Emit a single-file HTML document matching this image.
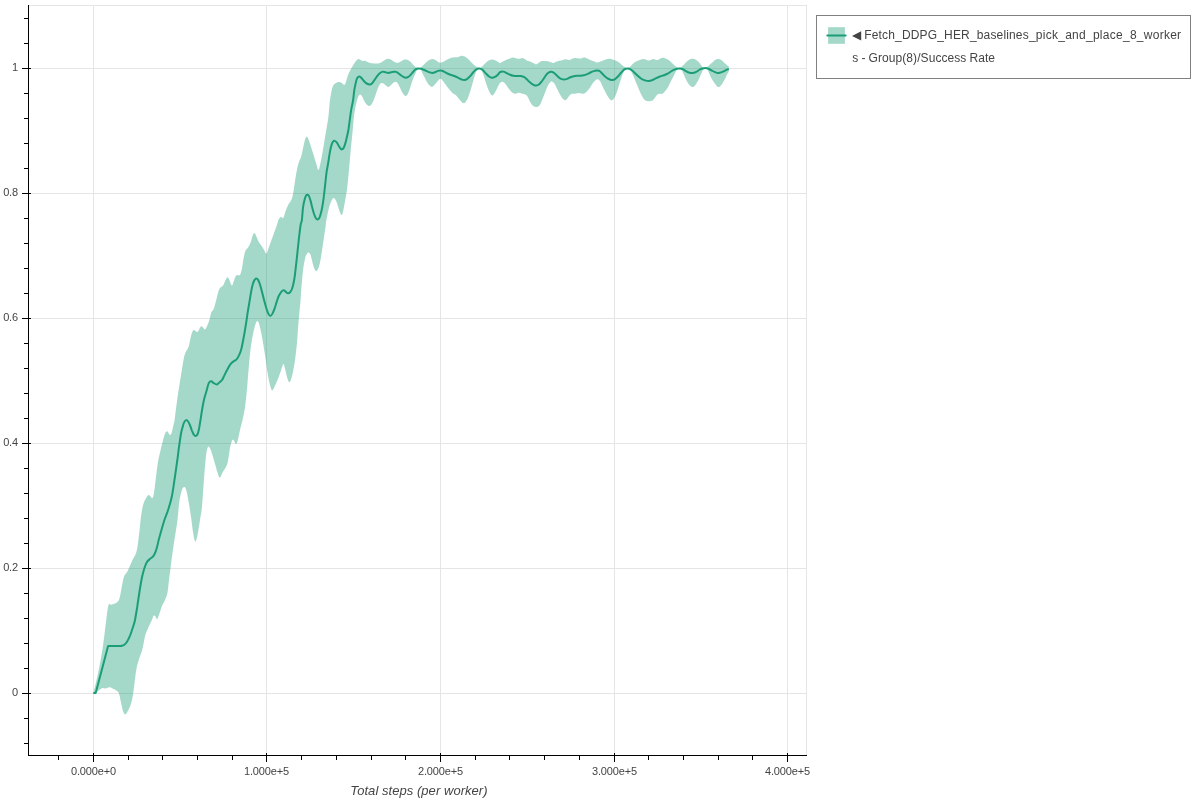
<!DOCTYPE html>
<html><head><meta charset="utf-8"><title>Success Rate</title>
<style>
html,body{margin:0;padding:0;background:#fff;}
body{width:1200px;height:800px;position:relative;overflow:hidden;font-family:"Liberation Sans",Helvetica,Arial,sans-serif;}
.legend{position:absolute;left:816px;top:15px;width:353px;height:42px;padding:10px;border:1px solid #808080;background:#fff;}
.glyph{position:absolute;left:8px;top:10px;width:24px;height:22px;}
.label{position:absolute;left:35.3px;top:8px;width:334px;font-size:12px;line-height:23px;color:#444;word-break:break-all;white-space:normal;word-spacing:-0.33px;letter-spacing:0.07px;}
.label span.a{letter-spacing:0.16px;}
.label span.b{letter-spacing:0.267px;}
.label b{font-weight:normal;word-spacing:-0.5px;}
</style></head><body>
<svg width="1200" height="800" viewBox="0 0 1200 800" style="position:absolute;left:0;top:0">
<rect x="0" y="0" width="1200" height="800" fill="#fff"/>
<g stroke="#e5e5e5" stroke-width="1" fill="none" shape-rendering="crispEdges">
<line x1="93.5" y1="5.5" x2="93.5" y2="755.5"/>
<line x1="266.5" y1="5.5" x2="266.5" y2="755.5"/>
<line x1="440.5" y1="5.5" x2="440.5" y2="755.5"/>
<line x1="614.5" y1="5.5" x2="614.5" y2="755.5"/>
<line x1="787.5" y1="5.5" x2="787.5" y2="755.5"/>
<line x1="28.5" y1="68.5" x2="806.5" y2="68.5"/>
<line x1="28.5" y1="193.5" x2="806.5" y2="193.5"/>
<line x1="28.5" y1="318.5" x2="806.5" y2="318.5"/>
<line x1="28.5" y1="443.5" x2="806.5" y2="443.5"/>
<line x1="28.5" y1="568.5" x2="806.5" y2="568.5"/>
<line x1="28.5" y1="693.5" x2="806.5" y2="693.5"/>
<rect x="28.5" y="5.5" width="778.0" height="750.0"/>
</g>
<clipPath id="c"><rect x="29" y="6" width="777" height="749"/></clipPath>
<g clip-path="url(#c)">
<path d="M93.50 692.90C94.38 689.08 97.15 677.98 98.75 670.00C100.35 662.02 101.85 653.33 103.10 645.00C104.35 636.67 105.35 626.62 106.25 620.00C107.15 613.38 107.67 607.79 108.50 605.25C109.33 602.71 109.75 605.31 111.25 604.75C112.75 604.19 116.04 603.32 117.50 601.90C118.96 600.48 118.96 600.32 120.00 596.25C121.04 592.18 122.50 581.67 123.75 577.50C125.00 573.33 126.04 574.17 127.50 571.25C128.96 568.33 131.04 563.12 132.50 560.00C133.96 556.88 135.32 555.42 136.25 552.50C137.18 549.58 137.47 546.88 138.10 542.50C138.72 538.12 139.58 530.00 140.00 526.25C140.42 522.50 140.18 523.12 140.60 520.00C141.02 516.88 141.77 510.83 142.50 507.50C143.23 504.17 143.96 502.08 145.00 500.00C146.04 497.92 147.50 495.32 148.75 495.00C150.00 494.68 151.56 498.93 152.50 498.10C153.44 497.27 153.78 493.85 154.40 490.00C155.03 486.15 155.63 479.79 156.25 475.00C156.87 470.21 157.38 465.42 158.10 461.25C158.82 457.08 159.77 453.54 160.60 450.00C161.43 446.46 162.37 442.71 163.10 440.00C163.83 437.29 164.31 435.21 165.00 433.75C165.69 432.29 166.42 431.04 167.25 431.25C168.08 431.46 169.22 434.89 170.00 435.00C170.78 435.11 171.28 433.77 171.90 431.90C172.53 430.02 173.30 425.73 173.75 423.75C174.20 421.77 173.97 424.38 174.60 420.00C175.22 415.62 176.39 405.21 177.50 397.50C178.61 389.79 180.21 380.21 181.25 373.75C182.29 367.29 183.03 362.29 183.75 358.75C184.47 355.21 184.77 354.58 185.60 352.50C186.43 350.42 187.81 349.17 188.75 346.25C189.69 343.33 190.42 337.71 191.25 335.00C192.08 332.29 192.71 330.52 193.75 330.00C194.79 329.48 196.25 332.52 197.50 331.90C198.75 331.27 200.00 326.67 201.25 326.25C202.50 325.83 203.96 329.61 205.00 329.40C206.04 329.19 206.77 326.57 207.50 325.00C208.23 323.43 208.78 322.08 209.40 320.00C210.03 317.92 210.53 314.38 211.25 312.50C211.97 310.62 212.92 310.83 213.75 308.75C214.58 306.67 215.53 302.71 216.25 300.00C216.97 297.29 217.47 294.48 218.10 292.50C218.72 290.52 219.17 289.25 220.00 288.10C220.83 286.95 222.17 286.95 223.10 285.60C224.03 284.25 224.87 281.39 225.60 280.00C226.33 278.61 226.87 277.25 227.50 277.25C228.13 277.25 228.67 278.61 229.40 280.00C230.13 281.39 231.18 285.39 231.90 285.60C232.62 285.81 233.13 282.81 233.75 281.25C234.37 279.69 234.93 277.29 235.60 276.25C236.27 275.21 237.02 275.21 237.75 275.00C238.48 274.79 239.31 276.04 240.00 275.00C240.69 273.96 241.28 271.67 241.90 268.75C242.53 265.83 243.13 260.52 243.75 257.50C244.37 254.47 244.88 252.27 245.60 250.60C246.32 248.93 247.27 248.85 248.10 247.50C248.93 246.15 249.87 244.38 250.60 242.50C251.33 240.62 251.87 237.82 252.50 236.25C253.13 234.68 253.78 233.10 254.40 233.10C255.03 233.10 255.53 234.78 256.25 236.25C256.98 237.72 257.81 240.23 258.75 241.90C259.69 243.57 260.96 244.80 261.90 246.25C262.84 247.70 263.67 249.35 264.40 250.60C265.12 251.85 265.63 253.95 266.25 253.75C266.87 253.55 267.38 251.28 268.10 249.40C268.83 247.53 269.66 245.11 270.60 242.50C271.54 239.89 272.70 236.67 273.75 233.75C274.80 230.83 276.12 227.29 276.90 225.00C277.67 222.71 277.78 221.35 278.40 220.00C279.02 218.65 279.82 217.22 280.60 216.90C281.38 216.58 282.27 219.04 283.10 218.10C283.93 217.16 284.77 213.43 285.60 211.25C286.43 209.07 287.16 206.88 288.10 205.00C289.04 203.12 290.42 201.88 291.25 200.00C292.08 198.12 292.48 196.88 293.10 193.75C293.73 190.62 294.37 185.21 295.00 181.25C295.63 177.29 296.27 173.12 296.90 170.00C297.52 166.88 298.02 164.79 298.75 162.50C299.48 160.21 300.42 159.17 301.25 156.25C302.08 153.33 303.02 148.03 303.75 145.00C304.48 141.97 305.04 139.45 305.60 138.10C306.16 136.75 306.58 136.58 307.10 136.90C307.62 137.22 308.06 138.23 308.75 140.00C309.44 141.77 310.42 144.90 311.25 147.50C312.08 150.10 312.92 152.89 313.75 155.60C314.58 158.31 315.46 161.35 316.25 163.75C317.04 166.15 317.77 170.21 318.50 170.00C319.23 169.79 319.93 165.42 320.60 162.50C321.27 159.58 321.87 156.04 322.50 152.50C323.13 148.96 323.77 145.00 324.40 141.25C325.02 137.50 325.58 134.04 326.25 130.00C326.92 125.96 327.84 121.40 328.40 117.00C328.96 112.60 329.12 107.78 329.60 103.60C330.08 99.42 330.73 94.83 331.30 91.90C331.87 88.97 332.37 87.40 333.00 86.00C333.63 84.60 334.33 84.12 335.10 83.50C335.87 82.88 336.83 82.50 337.60 82.25C338.37 82.00 339.00 81.86 339.70 82.00C340.40 82.14 341.03 82.60 341.80 83.10C342.57 83.60 343.60 85.22 344.30 85.00C345.00 84.78 345.38 83.45 346.00 81.80C346.62 80.15 347.36 76.98 348.05 75.10C348.74 73.22 349.45 71.89 350.15 70.50C350.85 69.11 351.56 67.93 352.25 66.75C352.94 65.57 353.61 64.44 354.30 63.40C354.99 62.36 355.70 61.23 356.40 60.50C357.10 59.77 357.80 59.10 358.50 59.00C359.20 58.90 359.90 59.58 360.60 59.90C361.30 60.22 361.86 60.73 362.70 60.90C363.54 61.07 364.67 60.65 365.65 60.90C366.63 61.15 367.56 62.02 368.60 62.40C369.64 62.78 370.78 63.00 371.90 63.20C373.02 63.40 374.18 63.57 375.30 63.60C376.42 63.63 377.63 63.60 378.60 63.40C379.57 63.20 380.26 62.85 381.10 62.40C381.94 61.95 382.80 61.23 383.65 60.70C384.50 60.17 385.43 59.52 386.20 59.20C386.97 58.88 387.48 58.73 388.25 58.80C389.02 58.87 389.96 59.18 390.80 59.60C391.64 60.02 392.47 60.80 393.30 61.30C394.13 61.80 395.10 62.35 395.80 62.60C396.50 62.85 396.80 62.92 397.50 62.80C398.20 62.68 399.17 62.28 400.00 61.90C400.83 61.52 401.73 60.88 402.50 60.50C403.27 60.12 403.98 59.77 404.60 59.60C405.23 59.43 405.55 59.35 406.25 59.50C406.95 59.65 407.96 59.98 408.80 60.50C409.64 61.02 410.68 61.98 411.30 62.60C411.92 63.22 411.88 63.57 412.50 64.20C413.12 64.83 414.25 65.83 415.00 66.40C415.75 66.97 416.29 67.32 417.00 67.60C417.71 67.88 418.54 68.17 419.25 68.10C419.96 68.03 420.50 67.76 421.25 67.20C422.00 66.64 422.92 65.58 423.75 64.75C424.58 63.92 425.42 63.00 426.25 62.25C427.08 61.50 427.92 60.75 428.75 60.25C429.58 59.75 430.62 59.44 431.25 59.25C431.88 59.06 431.88 59.02 432.50 59.10C433.12 59.18 434.07 59.28 435.00 59.75C435.93 60.22 437.17 61.40 438.10 61.90C439.03 62.40 439.66 62.82 440.60 62.75C441.54 62.68 442.60 62.02 443.75 61.50C444.90 60.98 446.25 60.23 447.50 59.60C448.75 58.98 450.10 58.14 451.25 57.75C452.40 57.36 453.36 57.33 454.40 57.25C455.44 57.17 456.57 57.42 457.50 57.25C458.43 57.08 459.17 56.48 460.00 56.25C460.83 56.02 461.57 55.79 462.50 55.90C463.43 56.01 464.56 56.28 465.60 56.90C466.64 57.52 467.60 58.50 468.75 59.60C469.90 60.70 471.25 62.35 472.50 63.50C473.75 64.65 475.10 65.75 476.25 66.50C477.40 67.25 478.36 68.04 479.40 68.00C480.44 67.96 481.47 67.07 482.50 66.25C483.53 65.43 484.56 64.04 485.60 63.10C486.64 62.16 487.70 61.18 488.75 60.60C489.80 60.02 490.86 59.66 491.90 59.60C492.94 59.54 493.97 59.87 495.00 60.25C496.03 60.63 497.27 61.44 498.10 61.90C498.93 62.36 499.12 63.10 500.00 63.01C500.88 62.91 502.23 61.89 503.35 61.33C504.47 60.77 505.58 60.15 506.70 59.66C507.82 59.17 508.93 58.75 510.05 58.40C511.17 58.05 512.28 57.53 513.40 57.56C514.52 57.59 515.77 58.36 516.75 58.57C517.73 58.78 518.35 58.92 519.26 58.82C520.17 58.72 521.35 57.98 522.19 57.98C523.03 57.98 523.52 58.40 524.29 58.82C525.06 59.24 525.96 60.07 526.80 60.49C527.64 60.91 528.47 61.05 529.31 61.33C530.15 61.61 530.99 61.79 531.83 62.17C532.67 62.55 533.64 63.21 534.34 63.59C535.04 63.97 535.31 64.53 536.01 64.43C536.71 64.33 537.69 63.53 538.53 63.01C539.37 62.49 540.06 61.65 541.04 61.33C542.02 61.01 543.27 61.08 544.39 61.08C545.51 61.08 546.62 61.15 547.74 61.33C548.86 61.51 550.11 61.89 551.09 62.17C552.07 62.45 552.76 63.08 553.60 63.01C554.44 62.94 555.13 62.13 556.11 61.75C557.09 61.37 558.34 61.06 559.46 60.75C560.58 60.44 561.69 60.16 562.81 59.91C563.93 59.66 565.04 59.21 566.16 59.24C567.28 59.27 568.53 60.15 569.51 60.08C570.49 60.01 571.05 59.17 572.03 58.82C573.01 58.47 574.26 58.02 575.38 57.98C576.50 57.94 577.75 58.50 578.73 58.57C579.71 58.64 580.33 58.57 581.24 58.40C582.15 58.23 583.19 57.56 584.17 57.56C585.15 57.56 586.05 58.01 587.10 58.40C588.15 58.79 589.33 59.42 590.45 59.91C591.57 60.40 592.68 60.88 593.80 61.33C594.92 61.78 596.12 62.52 597.15 62.59C598.18 62.66 598.90 62.14 600.00 61.75C601.10 61.36 602.50 60.71 603.75 60.25C605.00 59.79 606.46 59.25 607.50 59.00C608.54 58.75 609.17 58.65 610.00 58.75C610.83 58.85 611.57 59.29 612.50 59.60C613.43 59.91 614.56 60.16 615.60 60.60C616.64 61.04 617.70 61.52 618.75 62.25C619.80 62.98 620.86 64.19 621.90 65.00C622.94 65.81 624.07 66.58 625.00 67.10C625.93 67.62 626.57 68.24 627.50 68.10C628.43 67.96 629.56 67.08 630.60 66.25C631.64 65.42 632.70 63.98 633.75 63.10C634.80 62.23 635.86 61.52 636.90 61.00C637.94 60.48 638.97 60.32 640.00 60.00C641.03 59.68 642.06 59.14 643.10 59.10C644.14 59.06 645.31 59.50 646.25 59.75C647.19 60.00 647.92 60.60 648.75 60.60C649.58 60.60 650.42 60.02 651.25 59.75C652.08 59.48 652.92 58.96 653.75 59.00C654.58 59.04 655.42 59.93 656.25 60.00C657.08 60.07 657.92 59.72 658.75 59.40C659.58 59.08 660.52 58.38 661.25 58.10C661.98 57.83 662.27 57.64 663.10 57.75C663.93 57.86 665.20 58.27 666.25 58.75C667.30 59.23 668.36 59.81 669.40 60.60C670.44 61.39 671.47 62.56 672.50 63.50C673.53 64.44 674.56 65.50 675.60 66.25C676.64 67.00 677.60 68.04 678.75 68.00C679.90 67.96 681.36 66.88 682.50 66.00C683.64 65.12 684.56 63.75 685.60 62.75C686.64 61.75 687.60 60.67 688.75 60.00C689.90 59.33 691.25 58.75 692.50 58.75C693.75 58.75 695.10 59.33 696.25 60.00C697.40 60.67 698.38 61.60 699.40 62.75C700.42 63.90 701.40 66.08 702.40 66.90C703.40 67.73 704.50 67.75 705.40 67.70C706.30 67.65 707.00 67.17 707.80 66.60C708.60 66.03 709.40 65.03 710.20 64.30C711.00 63.57 711.80 62.90 712.60 62.20C713.40 61.50 714.30 60.60 715.00 60.10C715.70 59.60 716.25 59.40 716.80 59.20C717.35 59.00 717.70 58.85 718.30 58.90C718.90 58.95 719.75 59.17 720.40 59.50C721.05 59.83 721.60 60.35 722.20 60.85C722.80 61.35 723.20 61.77 724.00 62.50C724.80 63.23 726.20 64.53 727.00 65.20C727.80 65.88 728.50 66.33 728.80 66.55L728.80 71.80C728.50 72.25 727.50 73.60 727.00 74.50C726.50 75.40 726.15 76.45 725.80 77.20C725.45 77.95 725.28 78.28 724.90 79.00C724.52 79.72 724.11 80.50 723.50 81.50C722.89 82.50 722.15 84.07 721.25 85.00C720.35 85.93 719.14 87.31 718.10 87.10C717.06 86.89 716.02 85.05 715.00 83.75C713.98 82.45 712.70 80.44 712.00 79.30C711.30 78.16 711.20 77.75 710.80 76.90C710.40 76.05 710.00 75.15 709.60 74.20C709.20 73.25 708.80 72.05 708.40 71.20C708.00 70.35 707.63 69.58 707.20 69.10C706.77 68.62 706.25 68.35 705.80 68.30C705.35 68.25 704.97 68.53 704.50 68.80C704.03 69.07 703.54 69.08 703.00 69.90C702.46 70.73 702.07 71.97 701.25 73.75C700.43 75.53 699.14 78.62 698.10 80.60C697.06 82.57 695.93 84.52 695.00 85.60C694.07 86.68 693.33 87.10 692.50 87.10C691.67 87.10 690.93 86.57 690.00 85.60C689.07 84.62 687.94 83.12 686.90 81.25C685.86 79.38 684.69 76.38 683.75 74.40C682.81 72.43 681.98 70.32 681.25 69.40C680.52 68.48 680.12 68.80 679.40 68.90C678.67 69.00 677.73 69.08 676.90 70.00C676.07 70.92 675.34 72.63 674.40 74.40C673.46 76.17 672.30 78.52 671.25 80.60C670.20 82.68 669.14 85.12 668.10 86.90C667.06 88.68 665.93 90.11 665.00 91.25C664.07 92.39 663.33 93.33 662.50 93.75C661.67 94.17 660.83 93.64 660.00 93.75C659.17 93.86 658.33 93.78 657.50 94.40C656.67 95.03 655.83 96.47 655.00 97.50C654.17 98.53 653.54 99.97 652.50 100.60C651.46 101.22 649.90 101.25 648.75 101.25C647.60 101.25 646.64 101.32 645.60 100.60C644.56 99.88 643.53 98.57 642.50 96.90C641.47 95.23 640.44 92.90 639.40 90.60C638.36 88.30 637.30 85.60 636.25 83.10C635.20 80.60 634.04 77.68 633.10 75.60C632.16 73.52 631.43 71.72 630.60 70.60C629.77 69.48 628.83 69.21 628.10 68.90C627.38 68.59 626.98 68.25 626.25 68.75C625.52 69.25 624.58 70.34 623.75 71.90C622.92 73.46 622.08 75.71 621.25 78.10C620.42 80.49 619.58 83.64 618.75 86.25C617.92 88.86 617.08 91.67 616.25 93.75C615.42 95.83 614.58 97.67 613.75 98.75C612.92 99.83 611.98 100.25 611.25 100.25C610.52 100.25 610.12 99.62 609.40 98.75C608.67 97.88 607.73 96.46 606.90 95.00C606.07 93.54 605.23 91.67 604.40 90.00C603.57 88.33 602.63 86.50 601.90 85.00C601.17 83.50 600.72 81.98 600.00 81.01C599.28 80.04 598.32 79.31 597.57 79.17C596.82 79.03 596.25 79.52 595.48 80.18C594.71 80.84 593.80 81.99 592.96 83.11C592.12 84.23 591.29 85.69 590.45 86.88C589.61 88.07 588.78 89.25 587.94 90.23C587.10 91.21 586.20 92.16 585.43 92.74C584.66 93.32 584.03 93.63 583.33 93.74C582.63 93.85 582.01 93.55 581.24 93.41C580.47 93.27 579.57 92.91 578.73 92.91C577.89 92.91 577.05 93.27 576.21 93.41C575.37 93.55 574.54 93.64 573.70 93.74C572.86 93.84 571.96 93.60 571.19 93.99C570.42 94.38 569.80 95.25 569.10 96.09C568.40 96.93 567.63 98.32 567.00 99.02C566.37 99.72 565.82 100.14 565.33 100.28C564.84 100.42 564.63 100.28 564.07 99.86C563.51 99.44 562.75 98.81 561.98 97.76C561.21 96.71 560.30 95.11 559.46 93.58C558.62 92.05 557.79 90.22 556.95 88.55C556.11 86.88 555.25 84.72 554.44 83.53C553.63 82.34 552.79 81.64 552.09 81.43C551.39 81.22 550.98 81.50 550.25 82.27C549.52 83.04 548.58 84.44 547.74 86.04C546.90 87.65 546.07 89.81 545.23 91.90C544.39 93.99 543.48 96.64 542.71 98.60C541.94 100.55 541.32 102.37 540.62 103.63C539.92 104.89 539.30 105.58 538.53 106.14C537.76 106.70 536.85 106.98 536.01 106.98C535.17 106.98 534.27 106.63 533.50 106.14C532.73 105.65 532.11 105.03 531.41 104.05C530.71 103.07 530.01 101.61 529.31 100.28C528.61 98.95 527.92 97.07 527.22 96.09C526.52 95.11 525.90 94.80 525.13 94.41C524.36 94.02 523.45 93.99 522.61 93.74C521.77 93.49 520.94 93.05 520.10 92.91C519.26 92.77 518.43 92.77 517.59 92.91C516.75 93.05 515.92 93.77 515.08 93.74C514.24 93.71 513.40 93.32 512.56 92.74C511.72 92.16 510.89 91.21 510.05 90.23C509.21 89.25 508.38 88.00 507.54 86.88C506.70 85.76 505.87 84.37 505.03 83.53C504.19 82.69 503.35 81.92 502.51 81.85C501.67 81.78 500.83 82.17 500.00 83.11C499.17 84.05 498.33 85.94 497.50 87.50C496.67 89.06 495.88 91.15 495.00 92.50C494.12 93.85 493.08 95.50 492.25 95.60C491.42 95.70 490.79 94.45 490.00 93.10C489.21 91.75 488.33 89.68 487.50 87.50C486.67 85.32 485.83 82.50 485.00 80.00C484.17 77.50 483.33 74.35 482.50 72.50C481.67 70.65 480.73 69.48 480.00 68.90C479.27 68.32 478.83 68.30 478.10 69.00C477.37 69.70 476.43 71.06 475.60 73.10C474.77 75.14 473.93 78.43 473.10 81.25C472.27 84.07 471.43 87.29 470.60 90.00C469.77 92.71 468.93 95.52 468.10 97.50C467.27 99.48 466.33 100.97 465.60 101.90C464.88 102.83 464.37 103.04 463.75 103.10C463.13 103.16 462.62 102.87 461.90 102.25C461.17 101.63 460.34 100.51 459.40 99.40C458.46 98.29 457.40 96.65 456.25 95.60C455.10 94.55 453.75 94.24 452.50 93.10C451.25 91.96 450.00 90.31 448.75 88.75C447.50 87.19 445.94 85.00 445.00 83.75C444.06 82.50 443.83 82.08 443.10 81.25C442.37 80.42 441.53 78.75 440.60 78.75C439.67 78.75 438.53 80.21 437.50 81.25C436.47 82.29 435.33 84.06 434.40 85.00C433.47 85.94 432.73 86.86 431.90 86.90C431.07 86.94 430.23 86.08 429.40 85.25C428.57 84.42 427.59 82.99 426.90 81.90C426.21 80.81 425.73 79.63 425.25 78.70C424.77 77.77 424.46 77.18 424.00 76.30C423.54 75.42 422.95 74.32 422.50 73.40C422.05 72.48 421.67 71.50 421.30 70.80C420.93 70.10 420.64 69.55 420.30 69.20C419.96 68.85 419.63 68.68 419.25 68.70C418.87 68.72 418.42 68.95 418.00 69.30C417.58 69.65 417.17 70.15 416.75 70.80C416.33 71.45 415.99 72.17 415.50 73.20C415.01 74.23 414.43 75.42 413.80 77.00C413.17 78.58 412.40 80.63 411.70 82.70C411.00 84.77 410.30 87.45 409.60 89.40C408.90 91.35 408.12 93.32 407.50 94.40C406.88 95.48 406.33 95.73 405.85 95.90C405.37 96.07 405.16 95.93 404.60 95.40C404.04 94.87 403.27 93.98 402.50 92.70C401.73 91.42 400.77 89.23 400.00 87.70C399.23 86.17 398.60 84.48 397.90 83.50C397.20 82.52 396.57 81.92 395.80 81.80C395.03 81.68 394.13 82.23 393.30 82.80C392.47 83.37 391.60 84.50 390.80 85.20C390.00 85.90 389.20 86.87 388.50 87.00C387.80 87.13 387.33 86.52 386.60 86.00C385.87 85.48 384.87 84.38 384.10 83.90C383.33 83.42 382.70 83.03 382.00 83.10C381.30 83.17 380.60 83.40 379.90 84.30C379.20 85.20 378.50 86.82 377.80 88.50C377.10 90.18 376.40 92.44 375.70 94.40C375.00 96.36 374.30 98.58 373.60 100.25C372.90 101.92 372.20 103.46 371.50 104.40C370.80 105.34 370.03 105.75 369.40 105.90C368.77 106.05 368.32 105.75 367.70 105.30C367.07 104.85 366.34 104.18 365.65 103.20C364.96 102.22 364.18 100.58 363.55 99.40C362.93 98.22 362.46 96.93 361.90 96.10C361.34 95.27 360.77 94.40 360.20 94.40C359.63 94.40 359.06 94.98 358.50 96.10C357.94 97.22 357.40 99.02 356.85 101.10C356.30 103.18 355.69 105.95 355.20 108.60C354.71 111.25 354.35 113.02 353.90 117.00C353.45 120.98 353.05 126.79 352.50 132.50C351.95 138.21 351.23 144.58 350.60 151.25C349.98 157.92 349.37 166.04 348.75 172.50C348.13 178.96 347.52 185.21 346.90 190.00C346.27 194.79 345.63 197.71 345.00 201.25C344.37 204.79 343.73 208.96 343.10 211.25C342.48 213.54 341.98 215.42 341.25 215.00C340.52 214.58 339.58 211.04 338.75 208.75C337.92 206.46 337.08 203.03 336.25 201.25C335.42 199.47 334.58 198.10 333.75 198.10C332.92 198.10 332.08 199.47 331.25 201.25C330.42 203.03 329.56 205.62 328.75 208.75C327.94 211.88 326.92 217.08 326.40 220.00C325.88 222.92 326.04 223.12 325.60 226.25C325.16 229.38 324.37 234.58 323.75 238.75C323.13 242.92 322.52 247.29 321.90 251.25C321.27 255.21 320.63 259.58 320.00 262.50C319.37 265.42 318.73 267.29 318.10 268.75C317.48 270.21 316.87 271.25 316.25 271.25C315.63 271.25 315.02 270.21 314.40 268.75C313.77 267.29 313.13 264.79 312.50 262.50C311.87 260.21 311.23 256.67 310.60 255.00C309.98 253.33 309.37 252.71 308.75 252.50C308.13 252.29 307.52 252.71 306.90 253.75C306.27 254.79 305.63 256.04 305.00 258.75C304.37 261.46 303.73 264.79 303.10 270.00C302.48 275.21 301.67 285.00 301.25 290.00C300.83 295.00 300.91 296.25 300.60 300.00C300.29 303.75 299.82 307.92 299.40 312.50C298.98 317.08 298.52 322.29 298.10 327.50C297.68 332.71 297.42 338.33 296.90 343.75C296.38 349.17 295.63 355.42 295.00 360.00C294.37 364.58 293.73 368.12 293.10 371.25C292.48 374.38 291.87 376.92 291.25 378.75C290.63 380.58 290.02 382.25 289.40 382.25C288.77 382.25 288.23 381.00 287.50 378.75C286.77 376.50 285.67 371.21 285.00 368.75C284.33 366.29 284.02 364.16 283.50 364.00C282.98 363.84 282.69 365.63 281.90 367.80C281.11 369.97 279.90 374.03 278.75 377.00C277.60 379.97 276.08 383.37 275.00 385.60C273.92 387.83 273.08 390.50 272.25 390.40C271.42 390.30 270.79 387.98 270.00 385.00C269.21 382.02 268.33 377.50 267.50 372.50C266.67 367.50 265.93 361.04 265.00 355.00C264.07 348.96 262.83 341.25 261.90 336.25C260.97 331.25 260.13 327.54 259.40 325.00C258.67 322.46 258.13 321.21 257.50 321.00C256.87 320.79 256.33 321.62 255.60 323.75C254.87 325.88 253.93 329.58 253.10 333.75C252.27 337.92 251.32 343.12 250.60 348.75C249.88 354.38 249.37 360.62 248.75 367.50C248.13 374.38 247.53 383.33 246.90 390.00C246.28 396.67 245.73 402.50 245.00 407.50C244.27 412.50 243.33 416.25 242.50 420.00C241.67 423.75 240.83 426.46 240.00 430.00C239.17 433.54 238.23 438.96 237.50 441.25C236.77 443.54 236.33 444.06 235.60 443.75C234.87 443.44 233.93 439.19 233.10 439.40C232.27 439.61 231.32 442.19 230.60 445.00C229.88 447.81 229.37 452.92 228.75 456.25C228.13 459.58 227.94 462.29 226.90 465.00C225.86 467.71 223.69 470.38 222.50 472.50C221.31 474.62 220.58 477.75 219.75 477.75C218.92 477.75 218.29 474.83 217.50 472.50C216.71 470.17 216.04 467.29 215.00 463.75C213.96 460.21 212.29 454.12 211.25 451.25C210.21 448.38 209.47 446.71 208.75 446.50C208.03 446.29 207.43 447.75 206.90 450.00C206.38 452.25 206.12 454.58 205.60 460.00C205.07 465.42 204.37 474.58 203.75 482.50C203.13 490.42 202.53 501.25 201.90 507.50C201.28 513.75 200.73 515.42 200.00 520.00C199.27 524.58 198.29 531.42 197.50 535.00C196.71 538.58 195.98 541.92 195.25 541.50C194.52 541.08 193.77 536.29 193.10 532.50C192.43 528.71 191.97 523.75 191.25 518.75C190.53 513.75 189.58 507.29 188.75 502.50C187.92 497.71 187.03 492.60 186.25 490.00C185.47 487.40 184.82 486.90 184.10 486.90C183.38 486.90 182.68 487.61 181.90 490.00C181.12 492.39 180.13 496.25 179.40 501.25C178.67 506.25 178.13 514.79 177.50 520.00C176.87 525.21 176.33 527.71 175.60 532.50C174.87 537.29 173.93 542.92 173.10 548.75C172.27 554.58 171.28 562.29 170.60 567.50C169.92 572.71 169.52 575.83 169.00 580.00C168.48 584.17 168.17 589.17 167.50 592.50C166.83 595.83 165.93 597.71 165.00 600.00C164.07 602.29 163.15 603.12 161.90 606.25C160.65 609.38 158.57 617.04 157.50 618.75C156.43 620.46 156.12 617.02 155.50 616.50C154.88 615.98 154.35 615.02 153.75 615.60C153.15 616.18 152.94 617.70 151.90 620.00C150.86 622.30 148.65 626.69 147.50 629.40C146.35 632.11 145.83 633.02 145.00 636.25C144.17 639.48 143.54 644.79 142.50 648.75C141.46 652.71 139.79 656.46 138.75 660.00C137.71 663.54 137.04 665.42 136.25 670.00C135.46 674.58 134.62 682.92 134.00 687.50C133.38 692.08 133.07 694.58 132.50 697.50C131.93 700.42 131.33 702.82 130.60 705.00C129.87 707.18 128.99 709.03 128.10 710.60C127.21 712.17 126.08 714.29 125.25 714.40C124.42 714.51 123.77 713.02 123.10 711.25C122.43 709.48 121.87 706.46 121.25 703.75C120.63 701.04 120.03 697.08 119.40 695.00C118.78 692.92 118.65 692.33 117.50 691.25C116.35 690.17 113.85 689.17 112.50 688.50C111.15 687.83 110.55 687.25 109.40 687.25C108.25 687.25 106.75 688.39 105.60 688.50C104.45 688.61 103.43 687.75 102.50 687.90C101.57 688.05 101.25 688.57 100.00 689.40C98.75 690.23 96.08 692.32 95.00 692.90C93.92 693.48 93.75 692.90 93.50 692.90Z" fill="#1b9e77" fill-opacity="0.4" stroke="none"/>
<path d="M93.30 692.90L95.70 692.90L108.10 646.00L121.20 646.00C121.67 645.83 123.12 645.58 124.00 645.00C124.88 644.42 125.75 643.50 126.50 642.50C127.25 641.50 127.83 640.33 128.50 639.00C129.17 637.67 129.92 636.00 130.50 634.50C131.08 633.00 131.50 631.50 132.00 630.00C132.50 628.50 133.00 627.17 133.50 625.50C134.00 623.83 134.38 623.08 135.00 620.00C135.62 616.92 136.42 611.96 137.20 607.00C137.98 602.04 138.92 595.13 139.70 590.25C140.48 585.37 141.13 581.33 141.90 577.70C142.67 574.08 143.48 571.08 144.30 568.50C145.12 565.92 145.83 563.82 146.80 562.20C147.78 560.58 149.03 559.85 150.15 558.80C151.27 557.75 152.59 557.08 153.50 555.90C154.41 554.72 154.97 553.37 155.60 551.70C156.23 550.03 156.78 547.85 157.30 545.90C157.82 543.95 158.22 541.90 158.70 540.00C159.18 538.10 159.25 537.83 160.20 534.50C161.15 531.17 163.08 524.08 164.40 520.00C165.72 515.92 166.85 513.96 168.10 510.00C169.35 506.04 170.75 501.88 171.90 496.25C173.05 490.62 174.05 482.62 175.00 476.25C175.95 469.88 177.00 462.38 177.60 458.00C178.20 453.62 178.26 452.58 178.60 450.00C178.94 447.42 179.25 445.25 179.65 442.50C180.05 439.75 180.53 436.00 181.00 433.50C181.47 431.00 182.00 429.32 182.50 427.50C183.00 425.68 183.40 423.83 184.00 422.60C184.60 421.38 185.42 420.33 186.10 420.15C186.78 419.97 187.45 420.65 188.10 421.50C188.75 422.35 189.37 423.75 190.00 425.25C190.63 426.75 191.28 428.94 191.90 430.50C192.53 432.06 193.09 433.70 193.75 434.60C194.41 435.50 195.22 435.96 195.85 435.90C196.47 435.84 196.97 435.40 197.50 434.25C198.03 433.10 198.50 431.38 199.00 429.00C199.50 426.62 200.00 423.12 200.50 420.00C201.00 416.88 201.50 413.25 202.00 410.25C202.50 407.25 203.00 404.38 203.50 402.00C204.00 399.62 204.50 397.83 205.00 396.00C205.50 394.17 205.88 393.15 206.50 391.00C207.12 388.85 207.96 384.73 208.75 383.10C209.54 381.48 210.42 381.25 211.25 381.25C212.08 381.25 212.81 382.58 213.75 383.10C214.69 383.62 215.86 384.60 216.90 384.40C217.94 384.20 219.15 382.63 220.00 381.90C220.85 381.17 221.40 380.82 222.00 380.00C222.60 379.18 222.78 378.62 223.60 377.00C224.42 375.38 225.83 372.40 226.95 370.30C228.07 368.20 229.18 365.91 230.30 364.40C231.42 362.89 232.60 362.08 233.65 361.25C234.70 360.42 235.69 360.41 236.60 359.40C237.51 358.39 238.33 356.87 239.10 355.20C239.87 353.53 240.57 351.63 241.20 349.40C241.82 347.17 242.29 344.60 242.85 341.80C243.41 339.00 243.99 335.80 244.55 332.60C245.11 329.40 245.66 326.04 246.20 322.60C246.73 319.16 247.22 315.40 247.76 311.95C248.30 308.50 248.88 305.25 249.44 301.90C250.00 298.55 250.55 294.78 251.11 291.85C251.67 288.92 252.23 286.26 252.79 284.31C253.35 282.36 253.87 281.08 254.46 280.13C255.05 279.18 255.68 278.62 256.31 278.62C256.94 278.62 257.63 279.18 258.23 280.13C258.83 281.08 259.28 282.36 259.91 284.31C260.54 286.26 261.30 289.20 262.00 291.85C262.70 294.50 263.40 297.58 264.10 300.23C264.80 302.88 265.49 305.53 266.19 307.76C266.89 309.99 267.58 312.26 268.28 313.63C268.98 315.00 269.68 315.97 270.38 315.97C271.08 315.97 271.77 314.86 272.47 313.63C273.17 312.40 273.86 310.56 274.56 308.60C275.26 306.65 275.96 303.99 276.66 301.90C277.36 299.81 277.98 297.72 278.75 296.04C279.52 294.37 280.42 292.83 281.26 291.85C282.10 290.87 283.01 290.18 283.78 290.18C284.55 290.18 285.17 291.32 285.87 291.85C286.57 292.38 287.26 293.29 287.96 293.36C288.66 293.43 289.36 293.08 290.06 292.27C290.76 291.46 291.52 290.25 292.15 288.50C292.78 286.75 293.35 284.17 293.83 281.80C294.31 279.43 294.49 278.31 295.00 274.26C295.51 270.21 296.27 263.21 296.90 257.50C297.52 251.79 298.13 245.42 298.75 240.00C299.37 234.58 300.08 228.33 300.60 225.00C301.12 221.67 301.50 222.90 301.90 220.00C302.30 217.10 302.53 211.05 303.00 207.60C303.47 204.15 304.18 201.32 304.70 199.30C305.22 197.28 305.63 196.28 306.10 195.50C306.57 194.72 307.03 194.58 307.50 194.65C307.97 194.72 308.38 194.86 308.90 195.90C309.42 196.94 310.04 198.95 310.60 200.90C311.16 202.85 311.70 205.50 312.25 207.60C312.80 209.70 313.34 211.82 313.90 213.50C314.46 215.18 315.00 216.68 315.60 217.70C316.20 218.72 316.87 219.60 317.50 219.60C318.13 219.60 318.82 218.85 319.40 217.70C319.98 216.55 320.52 214.52 321.00 212.70C321.48 210.88 321.87 209.18 322.30 206.80C322.73 204.42 323.12 202.13 323.60 198.40C324.08 194.67 324.70 188.82 325.20 184.40C325.70 179.98 326.12 175.38 326.60 171.90C327.08 168.42 327.57 166.72 328.10 163.50C328.63 160.28 329.23 155.67 329.80 152.60C330.37 149.53 330.95 146.92 331.50 145.10C332.05 143.28 332.55 142.40 333.10 141.70C333.65 141.00 334.17 140.75 334.80 140.90C335.43 141.05 336.20 141.70 336.90 142.60C337.60 143.50 338.37 145.27 339.00 146.30C339.63 147.33 340.22 148.28 340.70 148.80C341.18 149.32 341.42 149.53 341.90 149.40C342.38 149.27 343.03 149.00 343.60 148.00C344.17 147.00 344.74 145.28 345.30 143.40C345.86 141.52 346.43 138.93 346.95 136.70C347.47 134.47 347.87 133.28 348.40 130.00C348.93 126.72 349.65 120.57 350.15 117.00C350.65 113.43 350.91 111.39 351.40 108.60C351.89 105.81 352.62 103.32 353.10 100.25C353.58 97.18 353.88 92.99 354.30 90.20C354.72 87.41 355.18 85.38 355.60 83.50C356.03 81.62 356.38 80.02 356.85 78.90C357.32 77.78 357.91 77.18 358.40 76.80C358.89 76.42 359.28 76.39 359.80 76.60C360.32 76.81 360.88 77.38 361.50 78.05C362.12 78.72 362.78 79.76 363.55 80.60C364.32 81.44 365.26 82.48 366.10 83.10C366.94 83.72 367.93 84.07 368.60 84.30C369.27 84.53 369.55 84.63 370.10 84.50C370.65 84.37 371.18 84.22 371.90 83.50C372.62 82.78 373.56 81.33 374.40 80.15C375.24 78.97 376.10 77.52 376.95 76.40C377.80 75.28 378.66 74.20 379.50 73.45C380.34 72.70 381.17 72.16 382.00 71.90C382.83 71.64 383.67 71.78 384.50 71.90C385.33 72.02 386.30 72.43 387.00 72.60C387.70 72.77 388.00 72.97 388.70 72.90C389.40 72.83 390.37 72.38 391.20 72.20C392.03 72.02 392.87 71.85 393.70 71.80C394.53 71.75 395.37 71.62 396.20 71.90C397.03 72.18 397.87 72.85 398.70 73.45C399.53 74.05 400.36 74.88 401.20 75.50C402.04 76.12 402.98 76.82 403.75 77.20C404.52 77.58 405.16 77.80 405.85 77.80C406.54 77.80 407.13 77.65 407.90 77.20C408.67 76.75 409.61 75.93 410.45 75.10C411.29 74.27 412.19 73.10 412.95 72.20C413.71 71.30 414.32 70.28 415.00 69.70C415.68 69.12 416.29 68.91 417.00 68.70C417.71 68.49 418.54 68.45 419.25 68.45C419.96 68.45 420.50 68.48 421.25 68.70C422.00 68.92 422.92 69.37 423.75 69.75C424.58 70.13 425.42 70.61 426.25 71.00C427.08 71.39 427.92 71.81 428.75 72.10C429.58 72.39 430.62 72.62 431.25 72.75C431.88 72.88 431.88 72.99 432.50 72.90C433.12 72.81 434.07 72.53 435.00 72.20C435.93 71.87 437.17 71.17 438.10 70.90C439.03 70.63 439.66 70.50 440.60 70.60C441.54 70.70 442.60 71.02 443.75 71.50C444.90 71.98 446.25 72.92 447.50 73.50C448.75 74.08 450.00 74.54 451.25 75.00C452.50 75.46 453.75 75.73 455.00 76.25C456.25 76.77 457.60 77.54 458.75 78.10C459.90 78.66 460.96 79.28 461.90 79.60C462.84 79.92 463.57 80.08 464.40 80.00C465.23 79.92 465.97 79.72 466.90 79.10C467.83 78.47 468.97 77.35 470.00 76.25C471.03 75.15 472.06 73.64 473.10 72.50C474.14 71.36 475.20 70.07 476.25 69.40C477.30 68.73 478.36 68.44 479.40 68.50C480.44 68.56 481.47 68.98 482.50 69.75C483.53 70.52 484.56 72.02 485.60 73.10C486.64 74.18 487.70 75.47 488.75 76.25C489.80 77.03 490.86 77.64 491.90 77.75C492.94 77.86 493.97 77.46 495.00 76.90C496.03 76.34 497.27 75.18 498.10 74.40C498.93 73.62 499.12 72.68 500.00 72.22C500.88 71.76 502.23 71.49 503.35 71.63C504.47 71.77 505.58 72.54 506.70 73.06C507.82 73.58 508.93 74.28 510.05 74.73C511.17 75.18 512.28 75.53 513.40 75.74C514.52 75.95 515.49 75.95 516.75 75.99C518.01 76.03 519.68 75.78 520.94 75.99C522.20 76.20 523.31 76.68 524.29 77.24C525.27 77.80 525.96 78.57 526.80 79.34C527.64 80.11 528.47 81.08 529.31 81.85C530.15 82.62 530.99 83.38 531.83 83.94C532.67 84.50 533.57 84.95 534.34 85.20C535.11 85.45 535.73 85.52 536.43 85.45C537.13 85.38 537.76 85.31 538.53 84.78C539.30 84.25 540.20 83.25 541.04 82.27C541.88 81.29 542.71 80.11 543.55 78.92C544.39 77.73 545.22 76.20 546.06 75.15C546.90 74.10 547.71 73.20 548.58 72.64C549.45 72.08 550.42 71.80 551.26 71.80C552.10 71.80 552.79 72.15 553.60 72.64C554.41 73.13 555.27 73.96 556.11 74.73C556.95 75.50 557.79 76.54 558.63 77.24C559.47 77.94 560.23 78.54 561.14 78.92C562.05 79.30 563.09 79.51 564.07 79.51C565.05 79.51 565.95 79.30 567.00 78.92C568.05 78.54 569.23 77.70 570.35 77.24C571.47 76.78 572.58 76.40 573.70 76.16C574.82 75.92 575.93 75.88 577.05 75.82C578.17 75.76 579.28 75.90 580.40 75.82C581.52 75.74 582.63 75.60 583.75 75.32C584.87 75.04 585.98 74.62 587.10 74.15C588.22 73.68 589.33 72.97 590.45 72.47C591.57 71.97 592.82 71.45 593.80 71.13C594.78 70.81 595.47 70.59 596.31 70.54C597.15 70.49 598.22 70.66 598.83 70.80C599.45 70.94 599.18 70.64 600.00 71.38C600.82 72.12 602.50 74.08 603.75 75.25C605.00 76.42 606.36 77.65 607.50 78.40C608.64 79.15 609.77 79.48 610.60 79.75C611.43 80.02 611.77 80.11 612.50 80.00C613.23 79.89 614.07 79.72 615.00 79.10C615.93 78.47 617.06 77.35 618.10 76.25C619.14 75.15 620.20 73.64 621.25 72.50C622.30 71.36 623.36 70.07 624.40 69.40C625.44 68.73 626.47 68.50 627.50 68.50C628.53 68.50 629.56 68.83 630.60 69.40C631.64 69.97 632.60 70.87 633.75 71.90C634.90 72.93 636.25 74.46 637.50 75.60C638.75 76.74 640.00 77.95 641.25 78.75C642.50 79.55 643.75 80.03 645.00 80.40C646.25 80.78 647.50 81.07 648.75 81.00C650.00 80.93 651.25 80.48 652.50 80.00C653.75 79.52 655.00 78.68 656.25 78.10C657.50 77.52 658.75 76.97 660.00 76.50C661.25 76.03 662.50 75.71 663.75 75.25C665.00 74.79 666.25 74.42 667.50 73.75C668.75 73.08 670.00 71.97 671.25 71.25C672.50 70.53 673.75 69.86 675.00 69.40C676.25 68.94 677.50 68.57 678.75 68.50C680.00 68.43 681.36 68.58 682.50 69.00C683.64 69.42 684.56 70.42 685.60 71.00C686.64 71.58 687.60 72.15 688.75 72.50C689.90 72.85 691.25 73.20 692.50 73.10C693.75 73.00 695.10 72.46 696.25 71.90C697.40 71.34 698.38 70.32 699.40 69.75C700.42 69.18 701.40 68.81 702.40 68.50C703.40 68.19 704.40 67.85 705.40 67.90C706.40 67.95 707.40 68.40 708.40 68.80C709.40 69.20 710.40 69.77 711.40 70.30C712.40 70.83 713.50 71.53 714.40 71.95C715.30 72.38 716.10 72.67 716.80 72.85C717.50 73.02 717.90 73.08 718.60 73.00C719.30 72.92 720.10 72.73 721.00 72.40C721.90 72.08 723.00 71.50 724.00 71.05C725.00 70.60 726.20 70.05 727.00 69.70C727.80 69.35 728.50 69.08 728.80 68.95" fill="none" stroke="#1b9e77" stroke-width="2" stroke-linejoin="bevel" stroke-linecap="butt"/>
</g>
<g stroke="#000" stroke-width="1" fill="none" shape-rendering="crispEdges">
<line x1="28.5" y1="5.0" x2="28.5" y2="756.0"/>
<line x1="28.0" y1="755.5" x2="807.0" y2="755.5"/>
<line x1="22" y1="68.5" x2="31" y2="68.5"/>
<line x1="22" y1="193.5" x2="31" y2="193.5"/>
<line x1="22" y1="318.5" x2="31" y2="318.5"/>
<line x1="22" y1="443.5" x2="31" y2="443.5"/>
<line x1="22" y1="568.5" x2="31" y2="568.5"/>
<line x1="22" y1="693.5" x2="31" y2="693.5"/>
<line x1="24" y1="18.5" x2="28" y2="18.5"/>
<line x1="24" y1="43.5" x2="28" y2="43.5"/>
<line x1="24" y1="68.5" x2="28" y2="68.5"/>
<line x1="24" y1="93.5" x2="28" y2="93.5"/>
<line x1="24" y1="118.5" x2="28" y2="118.5"/>
<line x1="24" y1="143.5" x2="28" y2="143.5"/>
<line x1="24" y1="168.5" x2="28" y2="168.5"/>
<line x1="24" y1="193.5" x2="28" y2="193.5"/>
<line x1="24" y1="218.5" x2="28" y2="218.5"/>
<line x1="24" y1="243.5" x2="28" y2="243.5"/>
<line x1="24" y1="268.5" x2="28" y2="268.5"/>
<line x1="24" y1="293.5" x2="28" y2="293.5"/>
<line x1="24" y1="318.5" x2="28" y2="318.5"/>
<line x1="24" y1="343.5" x2="28" y2="343.5"/>
<line x1="24" y1="368.5" x2="28" y2="368.5"/>
<line x1="24" y1="393.5" x2="28" y2="393.5"/>
<line x1="24" y1="418.5" x2="28" y2="418.5"/>
<line x1="24" y1="443.5" x2="28" y2="443.5"/>
<line x1="24" y1="468.5" x2="28" y2="468.5"/>
<line x1="24" y1="493.5" x2="28" y2="493.5"/>
<line x1="24" y1="518.5" x2="28" y2="518.5"/>
<line x1="24" y1="543.5" x2="28" y2="543.5"/>
<line x1="24" y1="568.5" x2="28" y2="568.5"/>
<line x1="24" y1="593.5" x2="28" y2="593.5"/>
<line x1="24" y1="618.5" x2="28" y2="618.5"/>
<line x1="24" y1="643.5" x2="28" y2="643.5"/>
<line x1="24" y1="668.5" x2="28" y2="668.5"/>
<line x1="24" y1="693.5" x2="28" y2="693.5"/>
<line x1="24" y1="718.5" x2="28" y2="718.5"/>
<line x1="24" y1="743.5" x2="28" y2="743.5"/>
<line x1="93.5" y1="753" x2="93.5" y2="762"/>
<line x1="266.5" y1="753" x2="266.5" y2="762"/>
<line x1="440.5" y1="753" x2="440.5" y2="762"/>
<line x1="614.5" y1="753" x2="614.5" y2="762"/>
<line x1="787.5" y1="753" x2="787.5" y2="762"/>
<line x1="58.5" y1="756" x2="58.5" y2="760"/>
<line x1="128.5" y1="756" x2="128.5" y2="760"/>
<line x1="162.5" y1="756" x2="162.5" y2="760"/>
<line x1="197.5" y1="756" x2="197.5" y2="760"/>
<line x1="232.5" y1="756" x2="232.5" y2="760"/>
<line x1="301.5" y1="756" x2="301.5" y2="760"/>
<line x1="336.5" y1="756" x2="336.5" y2="760"/>
<line x1="371.5" y1="756" x2="371.5" y2="760"/>
<line x1="405.5" y1="756" x2="405.5" y2="760"/>
<line x1="475.5" y1="756" x2="475.5" y2="760"/>
<line x1="509.5" y1="756" x2="509.5" y2="760"/>
<line x1="544.5" y1="756" x2="544.5" y2="760"/>
<line x1="579.5" y1="756" x2="579.5" y2="760"/>
<line x1="648.5" y1="756" x2="648.5" y2="760"/>
<line x1="683.5" y1="756" x2="683.5" y2="760"/>
<line x1="718.5" y1="756" x2="718.5" y2="760"/>
<line x1="752.5" y1="756" x2="752.5" y2="760"/>
</g>
<g font-family="'Liberation Sans', Helvetica, Arial, sans-serif" font-size="11" fill="#444" letter-spacing="-0.15">
<text x="93.5" y="774.5" text-anchor="middle">0.000e+0</text>
<text x="266.5" y="774.5" text-anchor="middle">1.000e+5</text>
<text x="440.5" y="774.5" text-anchor="middle">2.000e+5</text>
<text x="614.5" y="774.5" text-anchor="middle">3.000e+5</text>
<text x="787.5" y="774.5" text-anchor="middle">4.000e+5</text>
<text x="18" y="71.0" text-anchor="end">1</text>
<text x="18" y="196.0" text-anchor="end">0.8</text>
<text x="18" y="321.0" text-anchor="end">0.6</text>
<text x="18" y="446.0" text-anchor="end">0.4</text>
<text x="18" y="571.0" text-anchor="end">0.2</text>
<text x="18" y="696.0" text-anchor="end">0</text>
</g>
<text x="419" y="794.5" text-anchor="middle" font-family="'Liberation Sans', Helvetica, Arial, sans-serif" font-size="13" font-style="italic" fill="#444" letter-spacing="0.05">Total steps (per worker)</text>
</svg>
<div class="legend"><svg class="glyph" width="24" height="22" viewBox="0 0 24 22"><rect x="3.1" y="1.2" width="16.8" height="16.6" fill="#1b9e77" fill-opacity="0.4"/><line x1="2.3" y1="9.5" x2="20.7" y2="9.5" stroke="#1b9e77" stroke-width="2" stroke-linecap="round"/></svg><div class="label"><b>&#9664; </b><span class="a">Fetch_DDPG_HER_baselines</span><span class="b">_pick_and_place_8_worker</span>s - Group(8)/Success Rate</div></div>
</body></html>
